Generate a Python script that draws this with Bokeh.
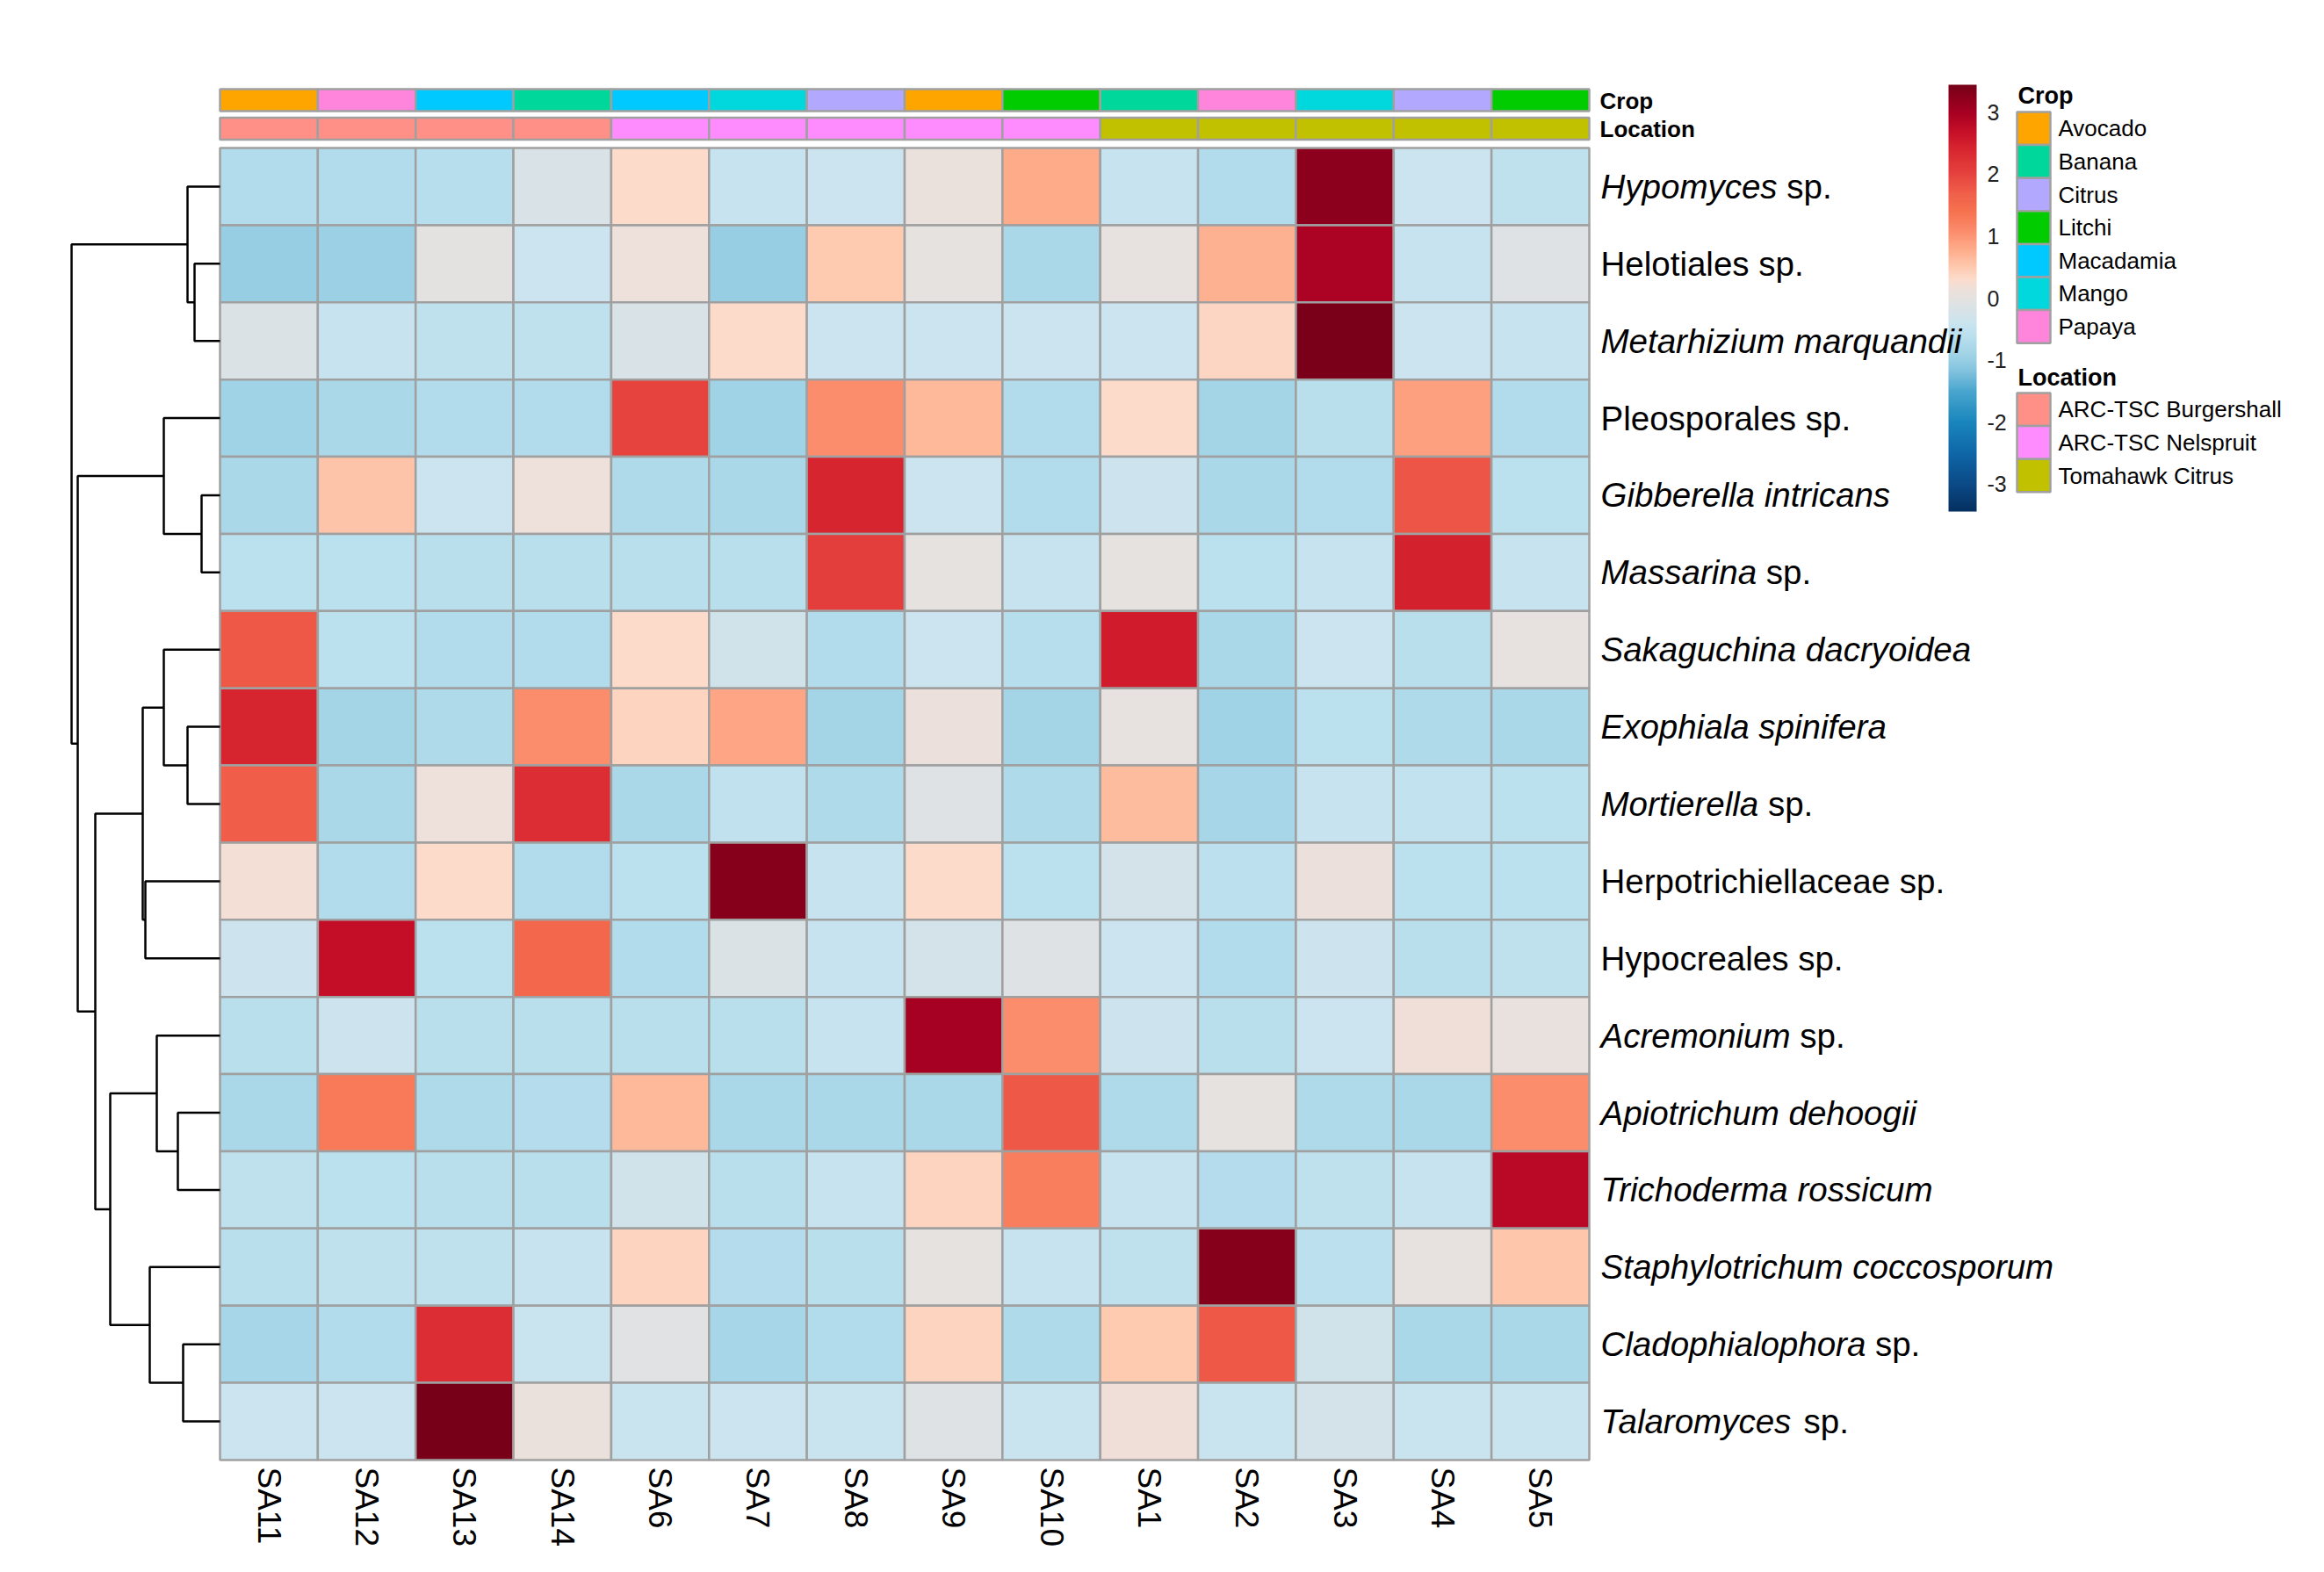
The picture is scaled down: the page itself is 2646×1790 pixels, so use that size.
import numpy as np
from bokeh.plotting import figure
from bokeh.models import (Range1d, LinearColorMapper, ColorBar, FixedTicker,
                          ColumnDataSource, PrintfTickFormatter)
from bokeh.core.properties import value
from bokeh.embed import file_html
from bokeh.resources import INLINE

# ---------------- data ----------------
samples = ["SA11", "SA12", "SA13", "SA14", "SA6", "SA7", "SA8", "SA9", "SA10",
           "SA1", "SA2", "SA3", "SA4", "SA5"]

taxa_italic = ["Hypomyces", "", "Metarhizium marquandii", "", "Gibberella intricans",
               "Massarina", "Sakaguchina dacryoidea", "Exophiala spinifera", "Mortierella",
               "", "", "Acremonium", "Apiotrichum dehoogii", "Trichoderma rossicum",
               "Staphylotrichum coccosporum", "Cladophialophora", "Talaromyces"]
taxa_roman = ["sp.", "Helotiales sp.", "", "Pleosporales sp.", "", "sp.", "", "", "sp.",
              "Herpotrichiellaceae sp.", "Hypocreales sp.", "sp.", "", "", "", "sp.", "sp."]

crop = ["Avocado", "Papaya", "Macadamia", "Banana", "Macadamia", "Mango", "Citrus",
        "Avocado", "Litchi", "Banana", "Papaya", "Mango", "Citrus", "Litchi"]
location = ["ARC-TSC Burgershall"] * 4 + ["ARC-TSC Nelspruit"] * 5 + ["Tomahawk Citrus"] * 5

crop_levels = ["Avocado", "Banana", "Citrus", "Litchi", "Macadamia", "Mango", "Papaya"]
crop_colors = ["#FFA500", "#00D79A", "#B2A9FF", "#00CC00", "#00C9FF", "#00D8DE", "#FF84DC"]
loc_levels = ["ARC-TSC Burgershall", "ARC-TSC Nelspruit", "Tomahawk Citrus"]
loc_colors = ["#FF9088", "#FF8CFF", "#C2C100"]

z = [
    [-0.7, -0.7, -0.65, -0.2, 0.3, -0.45, -0.4, 0.1, 0.8, -0.45, -0.7, 3.25, -0.4, -0.55],
    [-1.0, -0.95, -0.02, -0.4, 0.15, -1.0, 0.5, 0.0, -0.8, 0.05, 0.75, 2.95, -0.45, -0.1],
    [-0.15, -0.45, -0.55, -0.55, -0.2, 0.3, -0.4, -0.4, -0.4, -0.4, 0.35, 3.4, -0.4, -0.45],
    [-0.9, -0.8, -0.72, -0.72, 2.0, -0.9, 1.1, 0.65, -0.7, 0.3, -0.88, -0.63, 0.9, -0.7],
    [-0.8, 0.55, -0.4, 0.15, -0.75, -0.8, 2.4, -0.4, -0.7, -0.35, -0.8, -0.72, 1.8, -0.6],
    [-0.6, -0.6, -0.62, -0.62, -0.62, -0.62, 2.05, 0.0, -0.45, 0.0, -0.6, -0.45, 2.45, -0.45],
    [1.75, -0.6, -0.7, -0.7, 0.3, -0.3, -0.7, -0.4, -0.66, 2.55, -0.8, -0.4, -0.62, 0.05],
    [2.4, -0.88, -0.75, 1.1, 0.4, 0.85, -0.88, 0.12, -0.88, 0.03, -0.9, -0.6, -0.75, -0.8],
    [1.7, -0.8, 0.15, 2.3, -0.8, -0.52, -0.75, -0.1, -0.75, 0.62, -0.85, -0.45, -0.5, -0.6],
    [0.2, -0.7, 0.32, -0.7, -0.6, 3.3, -0.45, 0.3, -0.6, -0.25, -0.58, 0.12, -0.6, -0.6],
    [-0.35, 2.7, -0.6, 1.55, -0.7, -0.15, -0.45, -0.25, -0.1, -0.4, -0.7, -0.35, -0.62, -0.56],
    [-0.62, -0.35, -0.62, -0.62, -0.62, -0.62, -0.45, 3.0, 1.1, -0.35, -0.62, -0.4, 0.17, 0.08],
    [-0.8, 1.3, -0.75, -0.68, 0.65, -0.8, -0.8, -0.78, 1.75, -0.75, 0.0, -0.75, -0.8, 1.1],
    [-0.56, -0.6, -0.63, -0.63, -0.3, -0.63, -0.45, 0.38, 1.25, -0.45, -0.68, -0.55, -0.45, 2.8],
    [-0.62, -0.55, -0.55, -0.45, 0.4, -0.68, -0.63, 0.0, -0.45, -0.55, 3.3, -0.58, 0.03, 0.52],
    [-0.85, -0.72, 2.3, -0.43, -0.08, -0.85, -0.72, 0.38, -0.75, 0.5, 1.75, -0.3, -0.8, -0.8],
    [-0.4, -0.4, 3.42, 0.1, -0.42, -0.4, -0.42, -0.1, -0.42, 0.17, -0.42, -0.25, -0.42, -0.42],
]

# row dendrogram: (left child, right child, merge height); leaves 0..16, merges 17..
merge_a = [1, 0, 4, 3, 7, 6, 9, 22, 12, 11, 15, 14, 26, 24, 20, 18]
merge_b = [2, 17, 5, 19, 8, 21, 10, 23, 13, 25, 16, 27, 28, 29, 30, 31]
merge_h = [29, 37, 21, 64, 37, 64, 85, 88, 48, 72, 42, 80, 125, 142, 162, 169]

colorbar_ticks = [-3, -2, -1, 0, 1, 2, 3]

# ---------------- layout helpers ----------------
W, H = 2630, 1774
HM_L, HM_T = 250, 168          # heatmap top-left in figure px
CW = (1809 - 250) / 14.0       # column width px
RH = (1662 - 168) / 17.0       # row height px


def X(px):  # figure px -> data x
    return (px - HM_L) / CW


def Y(py):  # figure px (from top) -> data y
    return (py - HM_T) / RH


# colour scale
stops = [(-3.44, "#053061"), (-3.0, "#0B4A87"), (-2.5, "#0F67A8"), (-2.0, "#1A86BD"),
         (-1.5, "#4AA6CF"), (-1.2, "#7FC0DD"), (-1.0, "#98CFE4"), (-0.8, "#AAD8E9"),
         (-0.6, "#BCE0EE"), (-0.4, "#CAE4EF"), (-0.2, "#D8E2E7"), (0.0, "#E4E2E1"),
         (0.15, "#EEE0DB"), (0.3, "#FCDCCC"), (0.5, "#FECAB0"), (0.7, "#FEB595"),
         (0.9, "#FDA07F"), (1.1, "#FB8B6B"), (1.4, "#F6724F"), (1.7, "#F05F4A"),
         (2.0, "#E6433E"), (2.4, "#D82630"), (2.7, "#C50F28"), (3.0, "#A70022"),
         (3.2, "#92001E"), (3.44, "#770018")]
sv = np.array([s[0] for s in stops])
sc = np.array([[int(c[1:3], 16), int(c[3:5], 16), int(c[5:7], 16)] for _, c in stops], float)
grid = np.linspace(-3.44, 3.44, 256)
palette = []
for g in grid:
    rgb = [np.interp(g, sv, sc[:, k]) for k in range(3)]
    palette.append("#%02X%02X%02X" % tuple(int(round(v)) for v in rgb))
mapper = LinearColorMapper(palette=palette, low=-3.44, high=3.44)

GRID_COL = "#A0A0A0"
FONT = value("Liberation Sans")

p = figure(width=W, height=H, output_backend="svg", toolbar_location=None,
           x_range=Range1d(X(0), X(W)), y_range=Range1d(Y(H), Y(0)),
           x_axis_type=None, y_axis_type=None, min_border=0)
p.outline_line_color = None
p.xgrid.visible = False
p.ygrid.visible = False

# heatmap cells
nr, nc = len(z), len(samples)
cx, cy, cv = [], [], []
for i in range(nr):
    for j in range(nc):
        cx.append(j + 0.5)
        cy.append(i + 0.5)
        cv.append(z[i][j])
src = ColumnDataSource(dict(x=cx, y=cy, v=cv))
p.rect(x="x", y="y", width=1, height=1, source=src,
       fill_color={"field": "v", "transform": mapper},
       line_color=GRID_COL, line_width=2.5)

# annotation bars
bar_h = 25 / RH
crop_map = dict(zip(crop_levels, crop_colors))
loc_map = dict(zip(loc_levels, loc_colors))
ax = [j + 0.5 for j in range(nc)]
p.rect(x=ax, y=[Y(113.5) for _ in ax], width=1, height=bar_h,
       fill_color=[crop_map[c] for c in crop], line_color=GRID_COL, line_width=2.5)
p.rect(x=ax, y=[Y(146) for _ in ax], width=1, height=bar_h,
       fill_color=[loc_map[c] for c in location], line_color=GRID_COL, line_width=2.5)
p.text(x=[X(1821), X(1821)], y=[Y(114), Y(146)], text=["Crop", "Location"],
       text_font=FONT, text_font_style="bold", text_font_size="26px",
       text_baseline="middle", text_align="left", text_color="black")

# row labels (italic genus + roman part)
AW = {' ': 278, '.': 278, '-': 333,
      'a': 556, 'b': 556, 'c': 500, 'd': 556, 'e': 556, 'f': 278, 'g': 556, 'h': 556,
      'i': 222, 'j': 222, 'k': 500, 'l': 222, 'm': 833, 'n': 556, 'o': 556, 'p': 556,
      'q': 556, 'r': 333, 's': 500, 't': 278, 'u': 556, 'v': 500, 'w': 722, 'x': 500,
      'y': 500, 'z': 500,
      'A': 667, 'B': 667, 'C': 722, 'D': 722, 'E': 667, 'F': 611, 'G': 778, 'H': 722,
      'I': 278, 'J': 500, 'K': 667, 'L': 556, 'M': 833, 'N': 722, 'O': 778, 'P': 667,
      'Q': 778, 'R': 722, 'S': 667, 'T': 611, 'U': 722, 'V': 667, 'W': 944, 'X': 667,
      'Y': 667, 'Z': 611}
FS = 38.5


def tw(s):
    return sum(AW.get(c, 556) for c in s) * FS / 1000.0


lx = X(1822)
ix, iy, it, rx, ry, rt = [], [], [], [], [], []
for i in range(nr):
    yy = i + 0.5
    off = 0.0
    if taxa_italic[i]:
        ix.append(lx); iy.append(yy); it.append(taxa_italic[i])
        off = (tw(taxa_italic[i]) + tw(" ")) / CW
    if taxa_roman[i]:
        rx.append(lx + off); ry.append(yy); rt.append(taxa_roman[i])
r1 = p.text(x=ix, y=iy, text=it, text_font=FONT, text_font_style="italic",
            text_font_size="%.1fpx" % FS, text_baseline="middle", text_align="left",
            text_color="black")
r2 = p.text(x=rx, y=ry, text=rt, text_font=FONT, text_font_style="normal",
            text_font_size="%.1fpx" % FS, text_baseline="middle", text_align="left",
            text_color="black")
r1.level = "overlay"
r2.level = "overlay"

# column labels
p.text(x=ax, y=[Y(1670) for _ in ax], text=samples, angle=-np.pi / 2,
       text_font=FONT, text_font_size="37px", text_baseline="middle",
       text_align="left", text_color="black")

# dendrogram
nodex = {}
nodey = {}
for i in range(nr):
    nodex[i] = 0.0
    nodey[i] = i + 0.5
xs, ys = [], []
for k, (a, b, h) in enumerate(zip(merge_a, merge_b, merge_h)):
    xm = -h / CW
    xs.append([nodex[a], xm, xm, nodex[b]])
    ys.append([nodey[a], nodey[a], nodey[b], nodey[b]])
    nid = nr + k
    nodex[nid] = xm
    nodey[nid] = (nodey[a] + nodey[b]) / 2.0
p.multi_line(xs=xs, ys=ys, line_color="black", line_width=2.5)

# colour bar
cb = ColorBar(color_mapper=mapper, ticker=FixedTicker(ticks=colorbar_ticks),
              formatter=PrintfTickFormatter(format="%d"),
              width=32, height=486, location=(2218, H - 582), padding=0,
              label_standoff=12, major_label_text_font_size="25px",
              major_label_text_font="Liberation Sans", major_label_text_color="#222222",
              major_tick_line_color=None, minor_tick_line_color=None,
              bar_line_color=None, border_line_color=None,
              background_fill_color=None, background_fill_alpha=0)
p.add_layout(cb)

# legends
LBX = 2315  # legend box centre px
box_w = 38 / CW
box_h = 37.6 / RH
p.text(x=[X(2297), X(2297)], y=[Y(108), Y(429)], text=["Crop", "Location"],
       text_font=FONT, text_font_style="bold", text_font_size="27px",
       text_baseline="middle", text_align="left", text_color="black")
cyl = [Y(127) + (k + 0.5) * box_h for k in range(len(crop_levels))]
p.rect(x=[X(LBX)] * len(crop_levels), y=cyl, width=box_w, height=box_h,
       fill_color=crop_colors, line_color=GRID_COL, line_width=2.5)
p.text(x=[X(2343)] * len(crop_levels), y=cyl, text=crop_levels, text_font=FONT,
       text_font_size="26px", text_baseline="middle", text_align="left",
       text_color="black")
lyl = [Y(447) + (k + 0.5) * box_h for k in range(len(loc_levels))]
p.rect(x=[X(LBX)] * len(loc_levels), y=lyl, width=box_w, height=box_h,
       fill_color=loc_colors, line_color=GRID_COL, line_width=2.5)
p.text(x=[X(2343)] * len(loc_levels), y=lyl, text=loc_levels, text_font=FONT,
       text_font_size="26px", text_baseline="middle", text_align="left",
       text_color="black")

open("out.html", "w").write(file_html(p, INLINE))
